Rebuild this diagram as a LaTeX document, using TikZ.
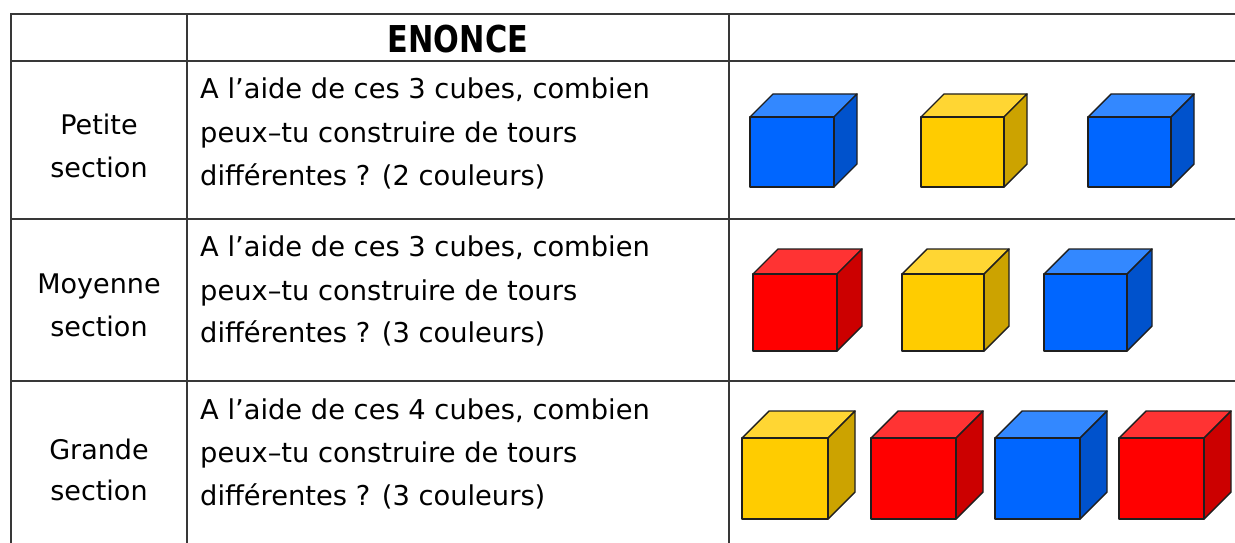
\documentclass[tikz,border=0pt]{standalone}
\usepackage{fontspec}
\setmainfont{DejaVu Sans}
\definecolor{bluefront}{HTML}{0066FF}
\definecolor{bluetop}{HTML}{3388FF}
\definecolor{blueside}{HTML}{0052CC}
\definecolor{yellowfront}{HTML}{FFCC00}
\definecolor{yellowtop}{HTML}{FFD633}
\definecolor{yellowside}{HTML}{CCA300}
\definecolor{redfront}{HTML}{FF0000}
\definecolor{redtop}{HTML}{FF3333}
\definecolor{redside}{HTML}{CC0000}
\newcommand{\drawcube}[6]{%
  \filldraw[cubeline, fill=#6top] (#1,#2) -- (#1+#5,#2-#5) -- (#3+#5,#2-#5) -- (#3,#2) -- cycle;
  \filldraw[cubeline, fill=#6side] (#3,#2) -- (#3+#5,#2-#5) -- (#3+#5,#4-#5) -- (#3,#4) -- cycle;
  \filldraw[cubeline, fill=#6front] (#1,#2) rectangle (#3,#4);
}
\begin{document}
\begin{tikzpicture}[x=1pt,y=-1pt,
  tableline/.style={line width=2pt, draw=black!78},
  cubeline/.style={line width=1.4pt, draw=black!88, line join=round},
  txt/.style={font=\fontsize{27.3}{32}\selectfont, inner sep=0pt, anchor=base west},
  lbl/.style={font=\fontsize{27}{32}\selectfont, inner sep=0pt, anchor=base},
  head/.style={font=\fontsize{37}{40}\selectfont\bfseries, inner sep=0pt, anchor=base}]
\useasboundingbox (0,0) rectangle (1235,543);
\fill[white] (0,0) rectangle (1235,543);
% table grid
\draw[tableline] (11,14.5) -- (1235,14.5);
\draw[tableline] (11,61) -- (1235,61);
\draw[tableline] (11,218.5) -- (1235,218.5);
\draw[tableline] (11,381) -- (1235,381);
\draw[tableline] (11,13.5) -- (11,543);
\draw[tableline] (187,14.5) -- (187,543);
\draw[tableline] (729,14.5) -- (729,543);
% header
\node[head] (enonce) at (458,53) {\scalebox{0.82}[1]{ENONCE}};
% row 1
\node[lbl] (ps1) at (99,135) {Petite};
\node[lbl] (ps2) at (99,177) {section};
\node[txt] (t11) at (200,99) {A l’aide de ces 3 cubes, combien};
\node[txt] (t12) at (200,142.5) {peux–tu construire de tours};
\node[txt] (t13) at (200,185) {différentes ? (2 couleurs)};
% row 2
\node[lbl] (ms1) at (99,293) {Moyenne};
\node[lbl] (ms2) at (99,336) {section};
\node[txt] (t21) at (200,256.5) {A l’aide de ces 3 cubes, combien};
\node[txt] (t22) at (200,300) {peux–tu construire de tours};
\node[txt] (t23) at (200,342.5) {différentes ? (3 couleurs)};
% row 3
\node[lbl] (gs1) at (99,459) {Grande};
\node[lbl] (gs2) at (99,500) {section};
\node[txt] (t31) at (200,419) {A l’aide de ces 4 cubes, combien};
\node[txt] (t32) at (200,462.5) {peux–tu construire de tours};
\node[txt] (t33) at (200,505) {différentes ? (3 couleurs)};
% cubes row 1
\drawcube{750}{117}{834}{187}{23}{blue}
\drawcube{921}{117}{1004}{187}{23}{yellow}
\drawcube{1088}{117}{1171}{187}{23}{blue}
% cubes row 2
\drawcube{753}{274}{837}{351}{25}{red}
\drawcube{902}{274}{984}{351}{25}{yellow}
\drawcube{1044}{274}{1127}{351}{25}{blue}
% cubes row 3
\drawcube{742}{438}{828}{519}{27}{yellow}
\drawcube{871}{438}{956}{519}{27}{red}
\drawcube{995}{438}{1080}{519}{27}{blue}
\drawcube{1119}{438}{1204}{519}{27}{red}
\end{tikzpicture}
\end{document}
